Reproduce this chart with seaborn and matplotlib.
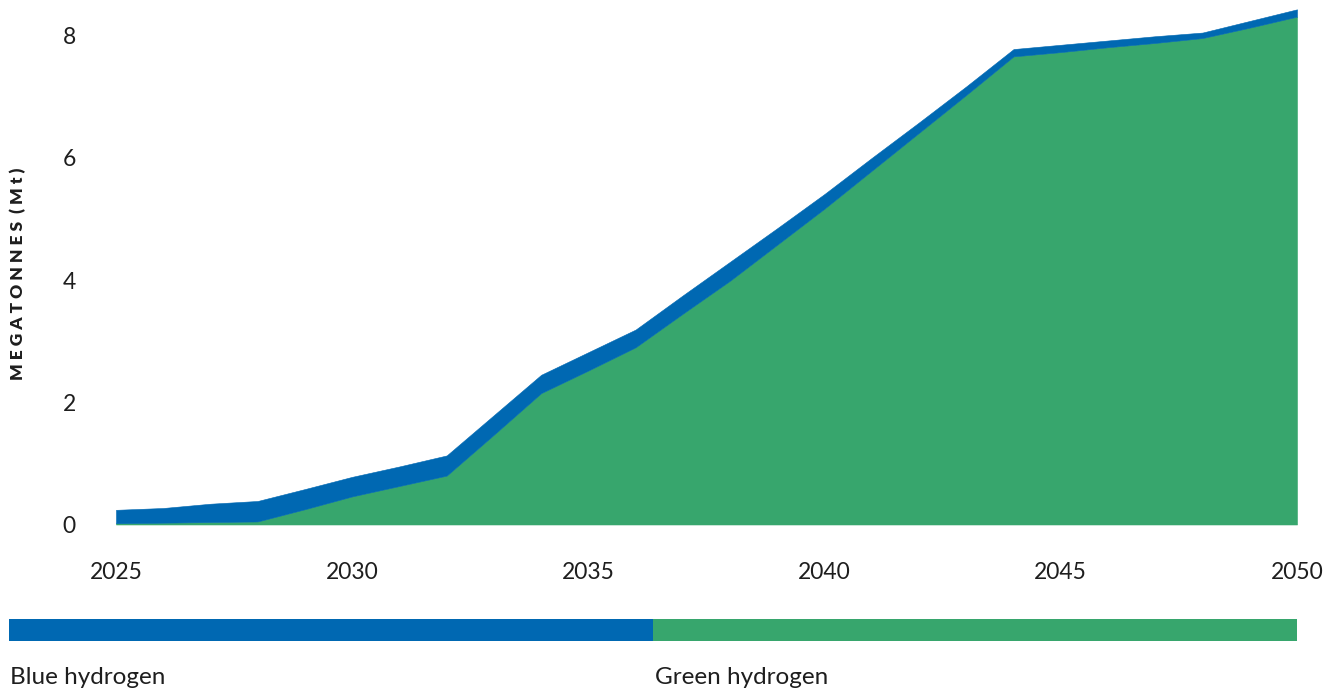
import matplotlib
matplotlib.use("Agg")
import matplotlib.pyplot as plt
import seaborn as sns
import pandas as pd

# Hydrogen production outlook, megatonnes per year
years = list(range(2025, 2051))
green_hydrogen = [0.02, 0.03, 0.04, 0.05, 0.25, 0.46, 0.63, 0.80, 1.47, 2.15,
                  2.52, 2.90, 3.45, 3.99, 4.58, 5.17, 5.79, 6.41, 7.03, 7.66,
                  7.73, 7.81, 7.88, 7.96, 8.13, 8.31]
blue_hydrogen = [0.22, 0.24, 0.30, 0.335, 0.33, 0.32, 0.32, 0.33, 0.32, 0.30,
                 0.30, 0.29, 0.30, 0.31, 0.27, 0.24, 0.21, 0.17, 0.14, 0.12,
                 0.12, 0.11, 0.11, 0.09, 0.11, 0.12]
series_names = ["Blue hydrogen", "Green hydrogen"]
y_ticks = [0, 2, 4, 6, 8]
x_ticks = [2025, 2030, 2035, 2040, 2045, 2050]

BLUE = "#0068b2"
GREEN = "#37a66d"
TEXT = "#1e1e1e"

sns.set_theme(style="white")
plt.rcParams["font.family"] = ["Lato", "DejaVu Sans"]

df = pd.DataFrame({"year": years, "green": green_hydrogen, "blue": blue_hydrogen})

W, H = 1339, 693
fig = plt.figure(figsize=(W / 100, H / 100), dpi=100)
ax = fig.add_axes([116 / W, (H - 524.5) / H, (1297 - 116) / W, (524.5 - 2) / H])

ax.stackplot(df["year"], df["green"], df["blue"], colors=[GREEN, BLUE],
             edgecolor="face", linewidth=0.4)

ax.set_xlim(2025, 2050)
ax.set_ylim(0, 8.55)
ax.set_xticks(x_ticks)
ax.set_yticks(y_ticks)
ax.set_xticklabels([str(t) for t in x_ticks], fontsize=16.5, color=TEXT)
ax.set_yticklabels([str(t) for t in y_ticks], fontsize=16.5, color=TEXT)
ax.tick_params(axis="x", length=0, pad=27)
ax.tick_params(axis="y", length=0, pad=29)
ax.set_xlabel("")
ax.set_ylabel("")
sns.despine(ax=ax, left=True, bottom=True)

fig.text(18 / W, (H - 274) / H, "M E G A T O N N E S  ( M t )",
         rotation=90, ha="center", va="center", fontsize=12.5,
         fontweight="heavy", color=TEXT)

# Colour key below the chart
kax = fig.add_axes([9 / W, (H - 641) / H, (1297 - 9) / W, 22 / H])
starts = [0.0, 0.5]
kax.barh([0, 0], [0.5, 0.5], left=starts, height=1.0,
         color=[BLUE, GREEN], linewidth=0)
kax.set_xlim(0, 1)
kax.set_ylim(-0.5, 0.5)
kax.axis("off")

for name, left_px in zip(series_names, [10, 655]):
    fig.text(left_px / W, (H - 678) / H, name, ha="left", va="center",
             fontsize=17.5, color=TEXT)

fig.savefig("out.png", dpi=100, facecolor="white")
